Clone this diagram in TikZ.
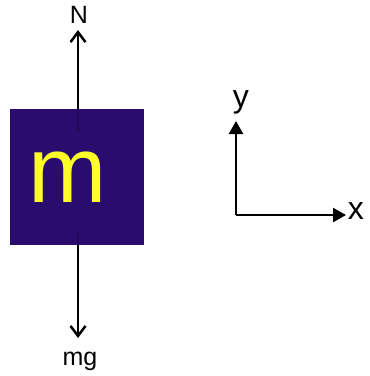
\documentclass[tikz,border=0pt]{standalone}
\usepackage{fontspec}
\setmainfont{Liberation Sans}
\usetikzlibrary{arrows.meta}
\definecolor{blockblue}{RGB}{42,12,110}
\definecolor{massyellow}{RGB}{255,255,40}

\begin{document}
\begin{tikzpicture}[x=1pt,y=-1pt,
    force/.style={line width=2.5pt, -{Straight Barb[length=10pt,width=15pt]}},
    axis/.style={line width=2.5pt, -{Triangle[length=13pt,width=14pt]}},
    forcelabel/.style={font=\fontsize{25}{25}\selectfont, inner sep=0pt},
    axislabel/.style={font=\fontsize{32}{32}\selectfont, inner sep=0pt}]
    \useasboundingbox (0,0) rectangle (370,376);
    % 物体 m
    \node[fill=blockblue, minimum width=134pt, minimum height=136pt, inner sep=0pt] (block) at (77,177) {};
    \node[text=massyellow, font=\fontsize{94}{94}\selectfont, inner sep=0pt] (mass) at (68,177) {m};
    % 支持力 N
    \coordinate (Ntail) at (78,132);
    \coordinate (Nhead) at (78,30);
    \node[forcelabel] (N) at (79,15) {N};
    \draw[line width=2.5pt, blockblue!80!black] (Ntail) -- (block.north -| Ntail);
    \draw[force] (block.north -| Ntail) -- (Nhead);
    % 重力 mg
    \coordinate (Gtail) at (78,230);
    \coordinate (Ghead) at (78,338);
    \node[forcelabel] (mg) at (80,361) {mg};
    \draw[line width=2.5pt, blockblue!80!black] (Gtail) -- (block.south -| Gtail);
    \draw[force] (block.south -| Gtail) -- (Ghead);
    % 坐标轴
    \coordinate (O) at (236,215);
    \coordinate (ytip) at (236,121);
    \coordinate (xtip) at (346,215);
    \draw[axis] (O) -- (ytip);
    \draw[axis] (O) -- (xtip);
    \node[axislabel] (ylab) at (241,102) {y};
    \node[axislabel] (xlab) at (356,211) {x};
\end{tikzpicture}
\end{document}
